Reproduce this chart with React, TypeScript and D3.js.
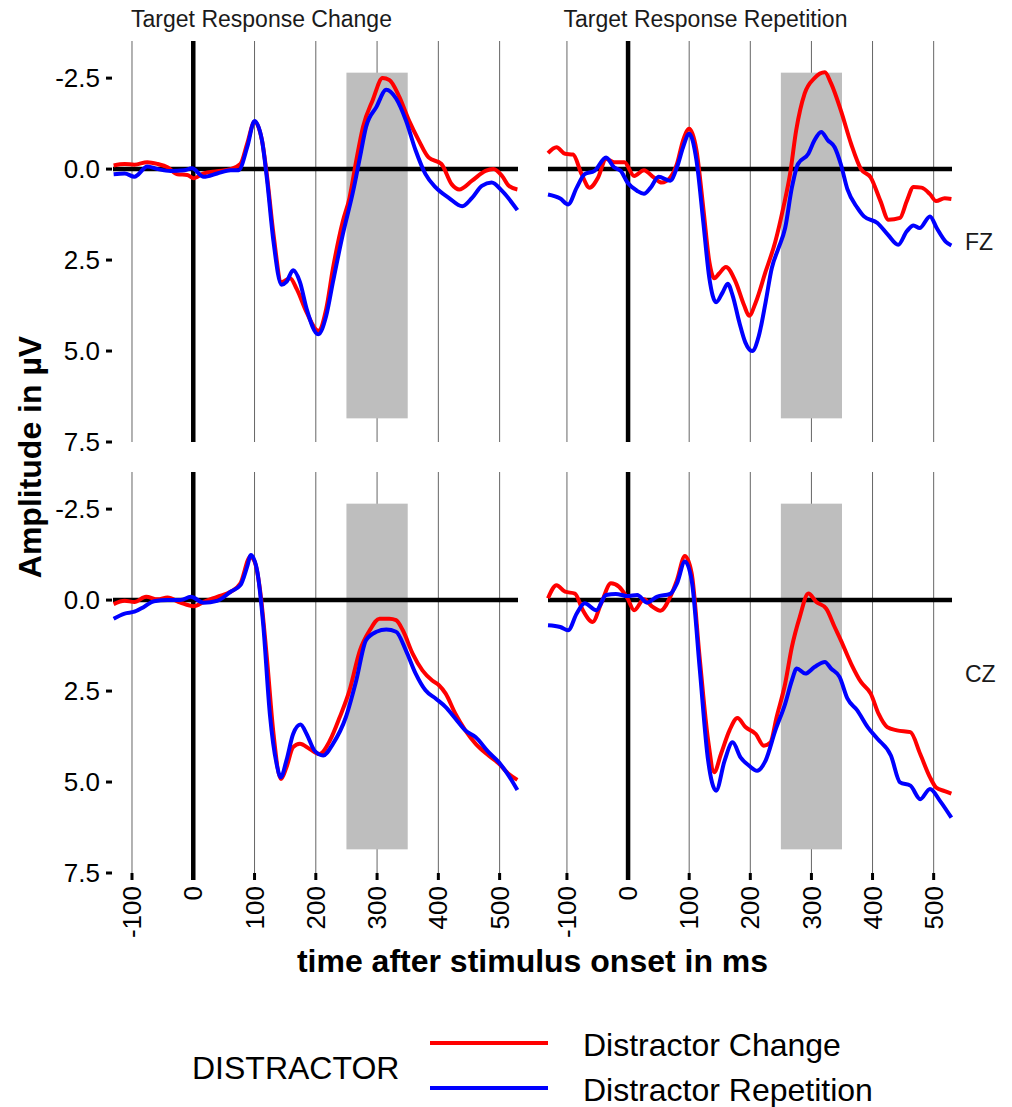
import React from "react";
import * as d3 from "d3";

// ---- data: [time ms, amplitude µV] ----
const fzChangeRed: [number, number][] = [
  [-130, -0.1], [-112, -0.14], [-96, -0.12], [-75, -0.19], [-58, -0.14], [-42, -0.05], [-26, 0.14], [-10, 0.16],
  [1, 0.25], [17, 0.12], [39, 0.06], [61, 0], [77, -0.14], [88, -0.7], [100, -1.3], [112, -0.8], [120, 0.14],
  [131, 1.8], [144, 3.1], [158, 3.0], [169, 3.3], [185, 3.94], [204, 4.44], [217, 3.84], [228, 2.73], [244, 1.44],
  [255, 0.79], [266, -0.23], [277, -1.16], [293, -1.9], [309, -2.5], [320, -2.45], [336, -2.0], [352, -1.34],
  [368, -0.79], [384, -0.32], [405, -0.14], [422, 0.42], [434, 0.56], [455, 0.32], [477, 0.05], [490, 0],
  [504, 0.19], [515, 0.46], [529, 0.56],
];
const fzChangeBlue: [number, number][] = [
  [-130, 0.14], [-112, 0.12], [-96, 0.21], [-75, -0.07], [-58, 0], [-37, 0.05], [-15, 0.03], [-2, -0.02],
  [17, 0.21], [39, 0.12], [61, 0.03], [74, 0.03], [88, -0.6], [100, -1.32], [112, -0.8], [120, 0.23], [131, 2.0],
  [144, 3.18], [152, 3.1], [163, 2.78], [174, 3.1], [185, 3.84], [204, 4.54], [217, 4.03], [228, 3.1], [244, 1.8],
  [261, 0.6], [272, -0.32], [282, -1.16], [299, -1.71], [315, -2.18], [331, -1.94], [347, -1.34], [363, -0.51],
  [379, 0.14], [396, 0.51], [417, 0.79], [439, 1.02], [455, 0.79], [471, 0.46], [487, 0.37], [504, 0.6], [529, 1.13],
];
const fzRepRed: [number, number][] = [
  [-131, -0.44], [-117, -0.6], [-103, -0.42], [-90, -0.4], [-76, 0.14], [-63, 0.51], [-49, 0.23], [-36, -0.28],
  [-23, -0.19], [-6, -0.19], [10, 0.19], [26, 0.03], [42, 0.23], [55, 0.37], [69, 0.23], [80, -0.14], [90, -0.79],
  [100, -1.11], [112, -0.51], [123, 1.06], [133, 2.55], [141, 3.0], [149, 2.87], [160, 2.69], [176, 3.1],
  [190, 3.75], [198, 4.03], [209, 3.66], [225, 2.82], [241, 1.99], [254, 1.06], [265, 0.14], [275, -1.06],
  [289, -2.08], [305, -2.5], [322, -2.66], [332, -2.36], [348, -1.62], [365, -0.69], [381, 0], [397, 0.23],
  [413, 0.88], [426, 1.39], [445, 1.34], [456, 0.88], [467, 0.49], [480, 0.51], [494, 0.69], [504, 0.88],
  [518, 0.8], [529, 0.82],
];
const fzRepBlue: [number, number][] = [
  [-131, 0.7], [-111, 0.81], [-98, 0.97], [-84, 0.51], [-71, 0.14], [-55, 0.05], [-36, -0.32], [-23, -0.05],
  [-12, 0.05], [-1, 0.37], [15, 0.6], [26, 0.68], [37, 0.51], [50, 0.21], [69, 0.32], [80, -0.05], [90, -0.6],
  [100, -0.97], [112, -0.23], [123, 1.44], [133, 3.0], [144, 3.66], [155, 3.38], [163, 3.15], [171, 3.47],
  [182, 4.21], [192, 4.77], [203, 5.0], [214, 4.58], [225, 3.66], [235, 2.73], [246, 2.18], [257, 1.62],
  [268, 0.51], [278, -0.14], [295, -0.42], [305, -0.79], [316, -1.02], [327, -0.79], [338, -0.6], [348, -0.14],
  [359, 0.56], [375, 1.06], [386, 1.3], [408, 1.48], [425, 1.8], [442, 2.08], [456, 1.71], [467, 1.55],
  [477, 1.62], [494, 1.3], [505, 1.62], [520, 2.0], [529, 2.1],
];
const czChangeRed: [number, number][] = [
  [-130, 0.11], [-112, 0.02], [-96, 0.05], [-77, -0.09], [-58, -0.02], [-42, -0.07], [-21, 0.07], [1, 0.17],
  [17, 0.05], [39, -0.09], [61, -0.23], [77, -0.46], [93, -1.19], [100, -1.06], [109, -0.28], [120, 1.56],
  [131, 3.68], [143, 4.92], [152, 4.6], [163, 4.04], [174, 3.95], [190, 4.09], [206, 4.23], [223, 3.86],
  [239, 3.22], [255, 2.48], [272, 1.38], [288, 0.83], [304, 0.51], [320, 0.51], [331, 0.55], [342, 0.83],
  [358, 1.47], [374, 1.93], [390, 2.21], [401, 2.34], [412, 2.57], [428, 3.13], [444, 3.58], [461, 3.95],
  [482, 4.27], [499, 4.5], [515, 4.78], [529, 4.94],
];
const czChangeBlue: [number, number][] = [
  [-130, 0.51], [-112, 0.37], [-96, 0.32], [-80, 0.18], [-64, 0.03], [-42, 0], [-21, 0], [-4, -0.09], [17, 0.07],
  [39, 0.02], [61, -0.23], [77, -0.41], [88, -0.92], [94, -1.24], [104, -0.83], [114, 0.64], [125, 3.13],
  [136, 4.5], [143, 4.87], [152, 4.41], [163, 3.68], [175, 3.42], [185, 3.68], [198, 4.14], [212, 4.27],
  [228, 3.95], [249, 3.22], [266, 2.21], [282, 1.1], [299, 0.87], [315, 0.81], [331, 0.87], [347, 1.38],
  [363, 2.02], [379, 2.48], [396, 2.71], [412, 2.94], [428, 3.26], [444, 3.58], [461, 3.77], [482, 4.18],
  [499, 4.46], [515, 4.83], [529, 5.22],
];
const czRepRed: [number, number][] = [
  [-131, -0.05], [-117, -0.41], [-103, -0.23], [-87, -0.18], [-74, 0.28], [-58, 0.6], [-44, 0.09], [-28, -0.46],
  [-15, -0.37], [-1, -0.05], [10, 0.28], [26, -0.02], [39, 0.17], [53, 0.29], [69, -0.09], [80, -0.55],
  [93, -1.21], [104, -0.74], [117, 1.56], [131, 3.86], [141, 4.73], [152, 4.23], [166, 3.58], [179, 3.24],
  [192, 3.49], [209, 3.68], [222, 4.0], [233, 3.91], [243, 3.22], [257, 2.3], [268, 1.29], [281, 0.46],
  [295, -0.18], [308, 0.05], [324, 0.23], [338, 0.74], [348, 1.1], [365, 1.75], [381, 2.25], [397, 2.57],
  [410, 3.13], [424, 3.49], [440, 3.58], [462, 3.63], [478, 4.23], [494, 4.87], [504, 5.15], [518, 5.25], [529, 5.32],
];
const czRepBlue: [number, number][] = [
  [-131, 0.69], [-111, 0.74], [-98, 0.83], [-84, 0.37], [-71, 0.09], [-52, 0.28], [-36, -0.14], [-20, -0.17],
  [-1, -0.11], [15, -0.14], [31, 0.07], [47, -0.09], [69, -0.17], [80, -0.46], [93, -1.06], [104, -0.55],
  [117, 1.84], [131, 4.41], [144, 5.24], [158, 4.41], [171, 3.91], [184, 4.32], [198, 4.55], [211, 4.69],
  [225, 4.41], [241, 3.58], [257, 2.85], [268, 2.21], [276, 1.88], [290, 2.02], [305, 1.84], [322, 1.7],
  [332, 1.88], [346, 2.11], [359, 2.71], [375, 3.03], [392, 3.49], [408, 3.81], [430, 4.27], [445, 5.01],
  [462, 5.1], [478, 5.47], [494, 5.19], [510, 5.51], [529, 5.98],
];

const xTicks = [-100, 0, 100, 200, 300, 400, 500];
const yTicks = [-2.5, 0, 2.5, 5, 7.5];
const columns = ["Target Response Change", "Target Response Repetition"];
const rows = ["FZ", "CZ"];
const legendLabels = ["Distractor Change", "Distractor Repetition"];
const timeWindow = [250, 350];
const windowAmp = [-2.65, 6.85];

const RED = "#FF0000";
const BLUE = "#0000FF";
const FONT = "Arial, 'Liberation Sans', sans-serif";

const panelData = [
  [
    [fzChangeRed, fzChangeBlue],
    [fzRepRed, fzRepBlue],
  ],
  [
    [czChangeRed, czChangeBlue],
    [czRepRed, czRepBlue],
  ],
];

const xRanges: [number, number][] = [
  [113, 518],
  [548, 952],
];
const yRanges: [number, number][] = [
  [41, 442],
  [472, 873],
];

export default function App() {
  const xScales = xRanges.map((r) => d3.scaleLinear().domain([-131, 530]).range(r));
  const yScales = yRanges.map((r) => d3.scaleLinear().domain([-3.52, 7.5]).range(r));

  const panels: React.ReactNode[] = [];
  rows.forEach((row, ri) => {
    const y = yScales[ri];
    columns.forEach((col, ci) => {
      const x = xScales[ci];
      const [x0, x1] = x.range();
      const [y0, y1] = y.range();
      const line = d3
        .line<[number, number]>()
        .x((d) => x(d[0]))
        .y((d) => y(d[1]))
        .curve(d3.curveMonotoneX);
      const [red, blue] = panelData[ri][ci];
      panels.push(
        <g key={`${ri}-${ci}`}>
          {xTicks
            .filter((t) => t !== 0)
            .map((t) => (
              <line key={t} x1={x(t)} x2={x(t)} y1={y0} y2={y1} stroke="#666" strokeWidth={1} />
            ))}
          <rect
            x={x(timeWindow[0])}
            width={x(timeWindow[1]) - x(timeWindow[0])}
            y={y(windowAmp[0])}
            height={y(windowAmp[1]) - y(windowAmp[0])}
            fill="#BEBEBE"
          />
          <line x1={x0} x2={x1} y1={y(0)} y2={y(0)} stroke="#000" strokeWidth={4.5} />
          <line x1={x(0)} x2={x(0)} y1={y0} y2={y1} stroke="#000" strokeWidth={4.5} />
          <path d={line(red) || ""} fill="none" stroke={RED} strokeWidth={4} strokeLinejoin="round" />
          <path d={line(blue) || ""} fill="none" stroke={BLUE} strokeWidth={4} strokeLinejoin="round" />
          {ci === 0 &&
            yTicks.map((t) => (
              <g key={"yt" + t}>
                <line x1={106} x2={112} y1={y(t)} y2={y(t)} stroke="#000" strokeWidth={3} />
                <text x={100} y={y(t)} dy="0.35em" textAnchor="end" fontSize={26} fontFamily={FONT} fill="#000">
                  {t.toFixed(1)}
                </text>
              </g>
            ))}
          {ri === 1 &&
            xTicks.map((t) => (
              <g key={"xt" + t}>
                <line x1={x(t)} x2={x(t)} y1={y1} y2={y1 + 7} stroke="#000" strokeWidth={t === 0 ? 4.5 : 3} />
                <text
                  transform={`translate(${x(t)},${y1 + 13}) rotate(-90)`}
                  dy="0.35em"
                  textAnchor="end"
                  fontSize={26}
                  fontFamily={FONT}
                  fill="#000"
                >
                  {String(t)}
                </text>
              </g>
            ))}
        </g>
      );
    });
  });

  return (
    <svg
      width={1012}
      height={1107}
      style={{ position: "absolute", left: 0, top: 0, background: "#fff" }}
      fontFamily={FONT}
    >
      <rect width={1012} height={1107} fill="#fff" />
      {panels}
      <text x={261.5} y={27} textAnchor="middle" fontSize={23} fill="#1a1a1a">
        {columns[0]}
      </text>
      <text x={705.5} y={27} textAnchor="middle" fontSize={23} fill="#1a1a1a">
        {columns[1]}
      </text>
      <text x={965} y={242} dy="0.35em" fontSize={23} fill="#1a1a1a">
        {rows[0]}
      </text>
      <text x={965} y={674} dy="0.35em" fontSize={23} fill="#1a1a1a">
        {rows[1]}
      </text>
      <text
        transform="translate(30,457) rotate(-90)"
        dy="0.35em"
        textAnchor="middle"
        fontSize={32}
        fontWeight="bold"
        fill="#000"
      >
        Amplitude in µV
      </text>
      <text x={532.5} y={972} textAnchor="middle" fontSize={32} fontWeight="bold" fill="#000">
        time after stimulus onset in ms
      </text>
      <text x={192} y={1068} dy="0.35em" fontSize={32} fill="#000">
        DISTRACTOR
      </text>
      <line x1={430} x2={548} y1={1043} y2={1043} stroke={RED} strokeWidth={4} />
      <line x1={430} x2={548} y1={1088} y2={1088} stroke={BLUE} strokeWidth={4} />
      <text x={583} y={1045} dy="0.35em" fontSize={32} fill="#000">
        {legendLabels[0]}
      </text>
      <text x={583} y={1090} dy="0.35em" fontSize={32} fill="#000">
        {legendLabels[1]}
      </text>
    </svg>
  );
}
